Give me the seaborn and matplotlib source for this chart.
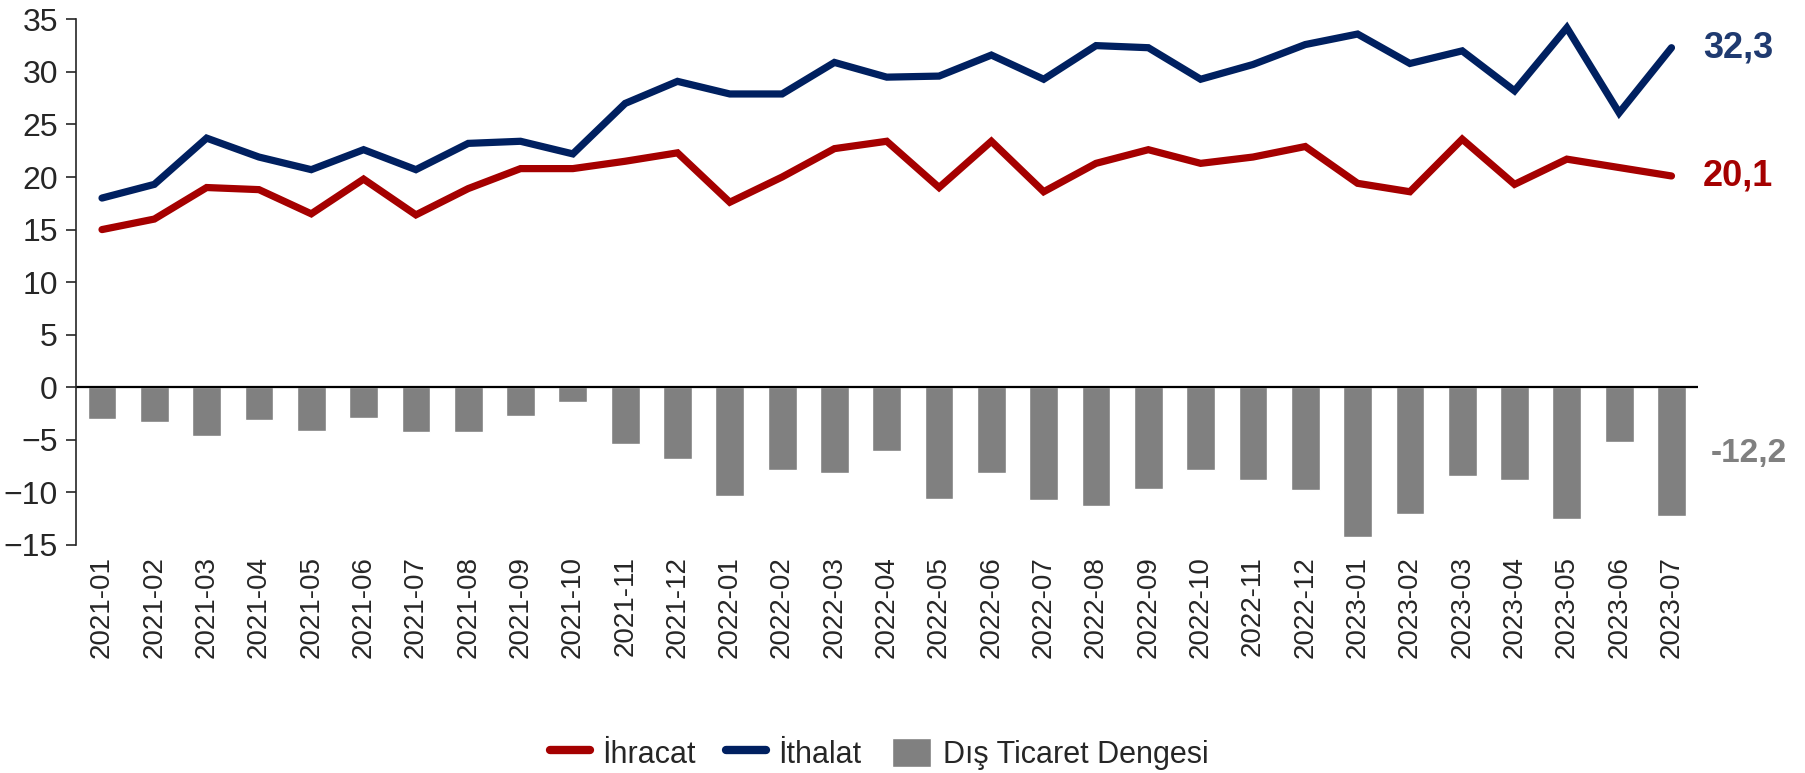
import numpy as np
import pandas as pd
import seaborn as sns
import matplotlib.pyplot as plt
from matplotlib.lines import Line2D
from matplotlib.patches import Patch

sns.set_style("ticks")
plt.rcParams['font.family'] = ['Liberation Sans', 'DejaVu Sans']

months = ['2021-01', '2021-02', '2021-03', '2021-04', '2021-05', '2021-06',
          '2021-07', '2021-08', '2021-09', '2021-10', '2021-11', '2021-12',
          '2022-01', '2022-02', '2022-03', '2022-04', '2022-05', '2022-06',
          '2022-07', '2022-08', '2022-09', '2022-10', '2022-11', '2022-12',
          '2023-01', '2023-02', '2023-03', '2023-04', '2023-05', '2023-06',
          '2023-07']
ihracat = [15.0, 16.0, 19.0, 18.8, 16.5, 19.8, 16.4, 18.9, 20.8, 20.8, 21.5, 22.3,
           17.6, 20.0, 22.7, 23.4, 19.0, 23.4, 18.6, 21.3, 22.6, 21.3, 21.9, 22.9,
           19.4, 18.6, 23.6, 19.3, 21.7, 20.9, 20.1]
ithalat = [18.0, 19.3, 23.7, 21.9, 20.7, 22.6, 20.7, 23.2, 23.4, 22.2, 27.0, 29.1,
           27.9, 27.9, 30.9, 29.5, 29.6, 31.6, 29.3, 32.5, 32.3, 29.3, 30.7, 32.6,
           33.6, 30.8, 32.0, 28.2, 34.2, 26.1, 32.3]
denge = [-3.0, -3.3, -4.6, -3.1, -4.2, -2.9, -4.3, -4.3, -2.7, -1.4, -5.4, -6.8,
         -10.3, -7.9, -8.2, -6.1, -10.6, -8.2, -10.7, -11.3, -9.7, -7.9, -8.8, -9.8,
         -14.2, -12.1, -8.4, -8.8, -12.5, -5.2, -12.2]

RED = '#A50000'
NAVY = '#002060'
GREY = '#808080'

df = pd.DataFrame({'ay': months, 'ihracat': ihracat, 'ithalat': ithalat, 'denge': denge})
df['pos'] = np.arange(len(df))

fig, ax = plt.subplots(figsize=(18.06, 7.73), dpi=100)
fig.subplots_adjust(left=0.042, right=0.94, top=0.975, bottom=0.295)

sns.barplot(data=df, x='ay', y='denge', color=GREY, width=0.55, saturation=1, ax=ax)
sns.lineplot(data=df, x='pos', y='ithalat', color=NAVY, lw=5.2, ax=ax,
             solid_capstyle='round', solid_joinstyle='miter')
sns.lineplot(data=df, x='pos', y='ihracat', color=RED, lw=5.2, ax=ax,
             solid_capstyle='round', solid_joinstyle='miter')

ax.axhline(0, color='black', lw=1.6, zorder=1)
ax.set_ylim(-15, 35)
ax.set_yticks(range(-15, 36, 5))
ax.set_xlim(-0.5, len(df) - 0.5)
ax.set_xticks(df['pos'])
ax.set_xticklabels(months, rotation=90)
ax.set_xlabel('')
ax.set_ylabel('')
ax.tick_params(axis='y', labelsize=23, length=7, width=1.2, pad=6)
ax.tick_params(axis='x', labelsize=20, length=0, pad=8)
for s in ['top', 'right', 'bottom']:
    ax.spines[s].set_visible(False)
ax.spines['left'].set_linewidth(1.2)

last = len(df) - 1
ax.text(last + 0.6, ithalat[-1], '32,3', color='#1F3A70', fontsize=26,
        fontweight='bold', va='center', ha='left')
ax.text(last + 0.6, ihracat[-1], '20,1', color=RED, fontsize=26,
        fontweight='bold', va='center', ha='left')
ax.text(last + 0.75, -6.3, '-12,2', color=GREY, fontsize=24,
        fontweight='bold', va='center', ha='left')

handles = [Line2D([0], [0], color=RED, lw=6, solid_capstyle='round'),
           Line2D([0], [0], color=NAVY, lw=6, solid_capstyle='round'),
           Patch(facecolor=GREY)]
fig.legend(handles, ['İhracat', 'İthalat', 'Dış Ticaret Dengesi'],
           loc='center', bbox_to_anchor=(0.487, 0.025), ncol=3, frameon=False,
           fontsize=22, handlelength=1.3, handleheight=1.1, handletextpad=0.4,
           columnspacing=1.0)

plt.savefig('out.png', dpi=100)
